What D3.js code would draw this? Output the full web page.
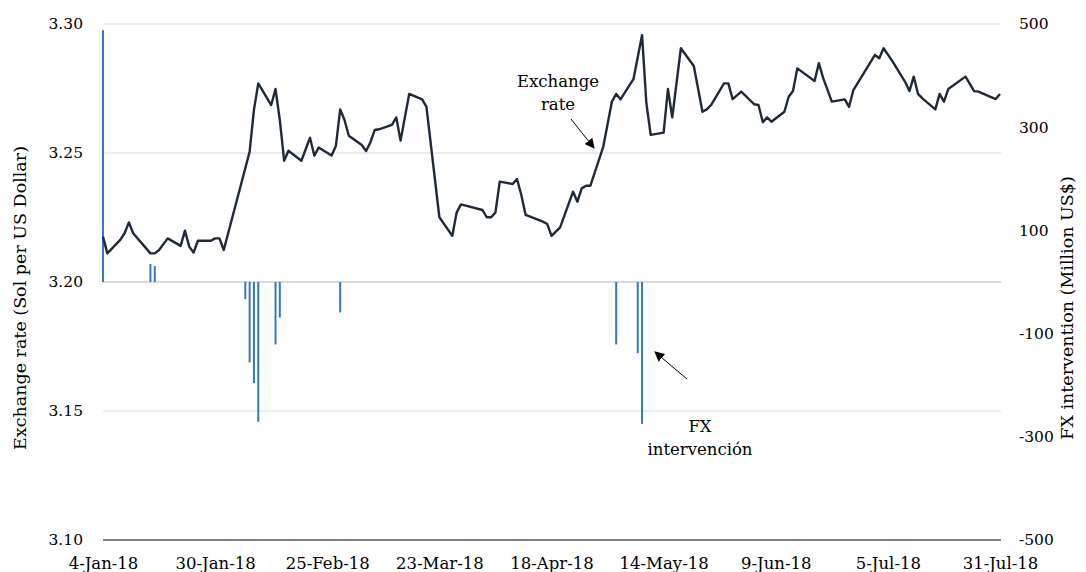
<!DOCTYPE html>
<html>
<head>
<meta charset="utf-8">
<script src="https://cdn.jsdelivr.net/npm/d3@7"></script>
<style>
  body { margin: 0; background: #fff; }
  text { font-family: "DejaVu Serif", "Liberation Serif", serif; fill: #000; }
</style>
</head>
<body>
<script>
// exchange rate, Sol per US Dollar
var rateDates = ["2018-01-04","2018-01-05","2018-01-08","2018-01-09","2018-01-10","2018-01-11","2018-01-15","2018-01-16","2018-01-17","2018-01-19",
  "2018-01-22","2018-01-23","2018-01-24","2018-01-25","2018-01-26","2018-01-29","2018-01-30","2018-01-31","2018-02-01","2018-02-07",
  "2018-02-08","2018-02-09","2018-02-12","2018-02-13","2018-02-14","2018-02-15","2018-02-16","2018-02-19","2018-02-21","2018-02-22",
  "2018-02-23","2018-02-26","2018-02-27","2018-02-28","2018-03-01","2018-03-02","2018-03-05","2018-03-06","2018-03-07","2018-03-08",
  "2018-03-09","2018-03-12","2018-03-13","2018-03-14","2018-03-16","2018-03-19","2018-03-20","2018-03-23","2018-03-26","2018-03-27",
  "2018-03-28","2018-04-02","2018-04-03","2018-04-04","2018-04-05","2018-04-06","2018-04-09","2018-04-10","2018-04-11","2018-04-12",
  "2018-04-16","2018-04-17","2018-04-18","2018-04-20","2018-04-23","2018-04-24","2018-04-25","2018-04-26","2018-04-27","2018-04-30",
  "2018-05-02","2018-05-03","2018-05-04","2018-05-07","2018-05-09","2018-05-10","2018-05-11","2018-05-14","2018-05-15","2018-05-16",
  "2018-05-18","2018-05-21","2018-05-23","2018-05-24","2018-05-25","2018-05-28","2018-05-29","2018-05-30","2018-06-01","2018-06-04",
  "2018-06-05","2018-06-06","2018-06-07","2018-06-08","2018-06-11","2018-06-12","2018-06-13","2018-06-14","2018-06-18","2018-06-19",
  "2018-06-20","2018-06-22","2018-06-25","2018-06-26","2018-06-27","2018-07-02","2018-07-03","2018-07-04","2018-07-06","2018-07-09",
  "2018-07-10","2018-07-11","2018-07-12","2018-07-13","2018-07-16","2018-07-17","2018-07-18","2018-07-19","2018-07-23","2018-07-25",
  "2018-07-26","2018-07-30","2018-07-31"];
var rateValues = [3.2176,3.2111,3.2163,3.2189,3.2231,3.2189,3.2111,3.2111,3.2124,3.2169,
  3.2140,3.2199,3.2137,3.2114,3.2160,3.2160,3.2169,3.2169,3.2124,3.2505,
  3.2667,3.2770,3.2686,3.2748,3.2628,3.2470,3.2509,3.2470,3.2559,3.2490,
  3.2521,3.2490,3.2527,3.2669,3.2628,3.2567,3.2531,3.2508,3.2541,3.2589,
  3.2592,3.2609,3.2638,3.2548,3.2729,3.2708,3.2679,3.2251,3.2179,3.2269,
  3.2301,3.2279,3.2251,3.2251,3.2270,3.2389,3.2380,3.2399,3.2337,3.2260,
  3.2234,3.2225,3.2179,3.2212,3.2350,3.2311,3.2363,3.2373,3.2373,3.2524,
  3.2699,3.2729,3.2708,3.2786,3.2957,3.2693,3.2570,3.2579,3.2748,3.2638,
  3.2906,3.2837,3.2660,3.2669,3.2686,3.2770,3.2770,3.2709,3.2738,3.2689,
  3.2686,3.2619,3.2638,3.2621,3.2660,3.2718,3.2740,3.2828,3.2779,3.2848,
  3.2790,3.2699,3.2708,3.2679,3.2744,3.2880,3.2867,3.2906,3.2857,3.2776,
  3.2740,3.2796,3.2729,3.2712,3.2669,3.2729,3.2699,3.2748,3.2796,3.2740,
  3.2738,3.2709,3.2729];

// FX intervention, million US$
var fxDates = ["2018-01-04","2018-01-15","2018-01-16","2018-02-06","2018-02-07","2018-02-08","2018-02-09","2018-02-13","2018-02-14","2018-02-28","2018-05-03","2018-05-08","2018-05-09"];
var fxValues = [488, 35, 31, -33, -156, -196, -271, -121, -69, -59, -121, -138, -275];

var xTickLabels = ["4-Jan-18","30-Jan-18","25-Feb-18","23-Mar-18","18-Apr-18","14-May-18","9-Jun-18","5-Jul-18","31-Jul-18"];
var leftTicks = [3.10, 3.15, 3.20, 3.25, 3.30];
var rightTicks = [-500, -300, -100, 100, 300, 500];

var parse = d3.utcParse("%Y-%m-%d");
var fmt = d3.utcFormat("%-d-%b-%y");
var rates = rateDates.map(function(d, i) { return { date: parse(d), value: rateValues[i] }; });
var fx = fxDates.map(function(d, i) { return { date: parse(d), value: fxValues[i] }; });
var tickDates = xTickLabels.map(d3.utcParse("%-d-%b-%y"));

var width = 1086, height = 572;
var padL = 103, padR = 1000, padT = 24, padB = 540;

var svg = d3.select("body").append("svg")
  .attr("width", width)
  .attr("height", height);

var x = d3.scaleUtc().domain([tickDates[0], tickDates[tickDates.length - 1]]).range([padL, padR]);
var y = d3.scaleLinear().domain([3.10, 3.30]).range([padB, padT]);
var y2 = d3.scaleLinear().domain([-500, 500]).range([padB, padT]);

// gridlines
svg.append("g")
  .selectAll("line")
  .data(leftTicks.slice(1))
  .enter().append("line")
  .attr("x1", padL).attr("x2", padR + 1)
  .attr("y1", function(d) { return y(d); })
  .attr("y2", function(d) { return y(d); })
  .attr("stroke", "#d9d9d9")
  .attr("stroke-width", function(d) { return d === 3.20 ? 2 : 1.2; });

// bars of FX intervention
svg.append("g")
  .selectAll("rect")
  .data(fx)
  .enter().append("rect")
  .attr("x", function(d) { return x(d.date) - 1; })
  .attr("width", 2)
  .attr("y", function(d) { return Math.min(y2(d.value), y2(0)); })
  .attr("height", function(d) { return Math.abs(y2(d.value) - y2(0)); })
  .attr("fill", "#3578bf");

// exchange rate line
var line = d3.line()
  .x(function(d) { return x(d.date); })
  .y(function(d) { return y(d.value); });

svg.append("path")
  .datum(rates)
  .attr("d", line)
  .attr("fill", "none")
  .attr("stroke", "#1f2937")
  .attr("stroke-width", 2.4)
  .attr("stroke-linejoin", "round");

// bottom axis
var xAxis = svg.append("g")
  .attr("transform", "translate(0," + padB + ")")
  .call(d3.axisBottom(x).tickValues(tickDates).tickFormat(fmt).tickSize(0).tickPadding(17));
xAxis.select(".domain").attr("stroke", "#808080").attr("stroke-width", 2).attr("d", "M" + padL + ",0H" + (padR + 1));
xAxis.selectAll("text").style("font-size", "16.5px").style("font-family", "DejaVu Serif");

var yAxis = svg.append("g")
  .attr("transform", "translate(" + (padL - 20) + ",0)")
  .call(d3.axisLeft(y).tickValues(leftTicks).tickFormat(d3.format(".2f")).tickSize(0).tickPadding(0));
yAxis.select(".domain").remove();
yAxis.selectAll("text").style("font-size", "15.5px").style("font-family", "DejaVu Serif");

var y2Axis = svg.append("g")
  .attr("transform", "translate(" + (padR + 19) + ",0)")
  .call(d3.axisRight(y2).tickValues(rightTicks).tickFormat(function(d) { return String(d); }).tickSize(0).tickPadding(0));
y2Axis.select(".domain").remove();
y2Axis.selectAll("text").style("font-size", "15.5px").style("font-family", "DejaVu Serif");

// axis titles
svg.append("text")
  .attr("transform", "translate(26,298) rotate(-90)")
  .attr("text-anchor", "middle")
  .style("font-size", "17.5px")
  .text("Exchange rate (Sol per US Dollar)");

svg.append("text")
  .attr("transform", "translate(1073,308) rotate(-90)")
  .attr("text-anchor", "middle")
  .style("font-size", "17.5px")
  .text("FX intervention (Million US$)");

// annotations
var defs = svg.append("defs");
defs.append("marker")
  .attr("id", "arrow")
  .attr("viewBox", "0 0 10 10")
  .attr("refX", 9).attr("refY", 5)
  .attr("markerWidth", 10).attr("markerHeight", 10)
  .attr("markerUnits", "userSpaceOnUse")
  .attr("orient", "auto")
  .append("path").attr("d", "M0,0L10,5L0,10z").attr("fill", "#000");

svg.append("text").attr("x", 558).attr("y", 87).attr("text-anchor", "middle").style("font-size", "16.5px").text("Exchange");
svg.append("text").attr("x", 558).attr("y", 110).attr("text-anchor", "middle").style("font-size", "16.5px").text("rate");
svg.append("line").attr("x1", 571).attr("y1", 119).attr("x2", 594).attr("y2", 148)
  .attr("stroke", "#000").attr("stroke-width", 1).attr("marker-end", "url(#arrow)");

svg.append("text").attr("x", 700).attr("y", 432).attr("text-anchor", "middle").style("font-size", "16.5px").text("FX");
svg.append("text").attr("x", 700).attr("y", 455).attr("text-anchor", "middle").style("font-size", "16.5px").text("intervención");
svg.append("line").attr("x1", 687).attr("y1", 379).attr("x2", 655).attr("y2", 352)
  .attr("stroke", "#000").attr("stroke-width", 1).attr("marker-end", "url(#arrow)");
</script>
</body>
</html>
